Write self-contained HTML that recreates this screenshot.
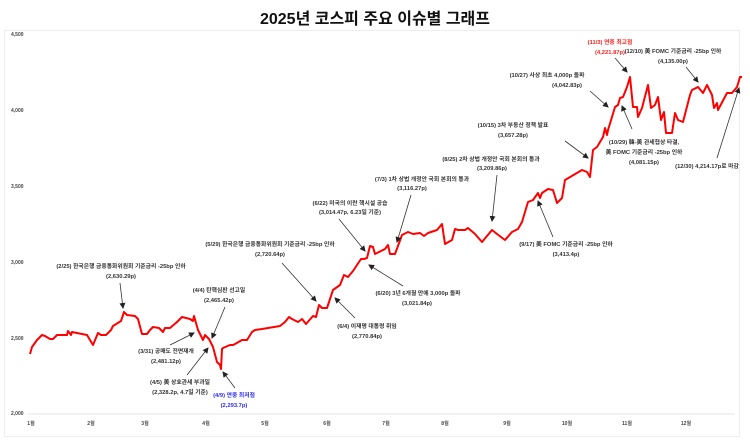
<!DOCTYPE html>
<html><head><meta charset="utf-8"><style>
html,body{margin:0;padding:0;background:#fff}
svg{display:block;font-family:"Liberation Sans","Noto Sans CJK KR",sans-serif}
.a{font-size:5.8px;fill:#333;font-weight:bold;text-anchor:middle}
.t{font-size:5px;fill:#444;font-weight:bold;text-anchor:middle}
.ar{stroke:#333;stroke-width:0.8;fill:none;marker-end:url(#m)}
</style></head><body>
<svg width="750" height="444" viewBox="0 0 750 444">
<defs><marker id="m" markerWidth="6" markerHeight="6" refX="5" refY="3" orient="auto" markerUnits="userSpaceOnUse"><path d="M0,0 L6,3 L0,6 z" fill="#222"/></marker></defs>
<text x="375" y="24" font-size="16" font-weight="bold" text-anchor="middle" fill="#111">2025년  코스피 주요 이슈별 그래프</text>
<rect x="4.5" y="30.5" width="735" height="406" fill="none" stroke="#eee"/>
<line x1="28" y1="414" x2="735" y2="414" stroke="#e6e6e6"/>
<g class="t">
<text x="11" y="36" text-anchor="start">4,500</text>
<text x="11" y="112" text-anchor="start">4,000</text>
<text x="11" y="188" text-anchor="start">3,500</text>
<text x="11" y="264" text-anchor="start">3,000</text>
<text x="11" y="340" text-anchor="start">2,500</text>
<text x="11" y="415" text-anchor="start">2,000</text>
</g>
<g class="t">
<text x="31" y="425">1월</text><text x="91" y="425">2월</text><text x="145" y="425">3월</text><text x="206" y="425">4월</text><text x="265" y="425">5월</text><text x="327" y="425">6월</text><text x="386" y="425">7월</text><text x="445" y="425">8월</text><text x="507" y="425">9월</text><text x="567" y="425">10월</text><text x="627" y="425">11월</text><text x="686" y="425">12월</text>
</g>
<polyline fill="none" stroke="#ff0000" stroke-width="2" stroke-linejoin="round" points="30,354 32,347 37,340 42,335 45,336 50,339 53,339 57,335 67,335 68,331 71,335 72,332 87,335 93,345 98,333 101,335 106,335 111,330 113,326 121,321 124,312 127,315 135,316 138,319 142,334 147,334 150,330 153,327 159,328 163,332 165,328 170,328 177,322 182,317 190,319 193,321 194,316 198,330 203,340 205,335 209,339 213,347 217,362 220,365 221,369 222,349 223,348 230,345 233,345 235,344 242,340 247,340 252,332 255,330 262,329 280,326 285,322 289,317 292,319 298,322 302,319 306,324 313,316 316,317 319,305 322,308 327,308 333,290 340,285 344,275 348,277 353,271 361,259 364,259 367,258 370,246 373,247 375,254 385,249 388,245 390,254 395,254 402,235 408,232 413,234 420,233 424,236 428,233 437,230 442,224 445,244 452,240 455,229 458,230 465,230 468,228 475,234 482,242 492,230 497,234 505,240 512,232 518,229 522,222 528,202 533,200 538,193 540,198 542,193 548,189 553,190 557,203 562,198 565,180 582,170 587,172 590,177 593,150 597,147 603,137 605,128 607,135 608,130 612,117 615,107 618,105 620,98 623,97 627,87 630,77 633,107 637,107 638,117 642,108 648,85 651,108 655,105 658,97 661,120 664,112 666,133 672,133 675,113 678,120 683,122 690,95 692,90 698,87 703,93 707,85 712,95 714,108 717,103 718,110 727,93 732,93 737,87 740,77 742,77"/>
<g class="a">
<text x="121" y="268">(2/25) 한국은행 금융통화위원회 기준금리 -25bp 인하</text><text x="121" y="278">(2,630.29p)</text>
<text x="270" y="246">(5/29) 한국은행 금융통화위원회 기준금리 -25bp 인하</text><text x="270" y="256">(2,720.64p)</text>
<text x="350" y="205">(6/22) 미국의 이란 핵시설 공습</text><text x="350" y="214">(3,014.47p, 6.23일 기준)</text>
<text x="422" y="181">(7/3) 1차 상법 개정안 국회 본회의 통과</text><text x="412" y="190">(3,116.27p)</text>
<text x="491" y="161">(8/25) 2차 상법 개정안 국회 본회의 통과</text><text x="492" y="170">(3,209.86p)</text>
<text x="513" y="127">(10/15) 3차 부동산 정책 발표</text><text x="513" y="137">(3,657.28p)</text>
<text x="547" y="77">(10/27) 사상 최초 4,000p 돌파</text><text x="567" y="87">(4,042.83p)</text>
<text x="610" y="44" fill="#ff2020">(11/3) 연중 최고점</text><text x="610" y="54" fill="#ff2020">(4,221.87p)</text>
<text x="673" y="53">(12/10) 美 FOMC 기준금리 -25bp 인하</text><text x="673" y="63">(4,135.00p)</text>
<text x="644" y="144">(10/29) 韓-美 관세협상 타결,</text><text x="644" y="154">美 FOMC 기준금리 -25bp 인하</text><text x="644" y="164">(4,081.15p)</text>
<text x="707" y="168">(12/30) 4,214.17p로 마감</text>
<text x="566" y="246">(9/17) 美 FOMC 기준금리 -25bp 인하</text><text x="566" y="256">(3,413.4p)</text>
<text x="418" y="295">(6/20) 3년 6개월 만에 3,000p 돌파</text><text x="417" y="305">(3,021.84p)</text>
<text x="367" y="328">(6/4) 이재명 대통령 취임</text><text x="367" y="338">(2,770.84p)</text>
<text x="219" y="292">(4/4) 탄핵심판 선고일</text><text x="219" y="302">(2,465.42p)</text>
<text x="166" y="353">(3/31) 공매도 전면재개</text><text x="166" y="363">(2,481.12p)</text>
<text x="180" y="384">(4/5) 美 상호관세 부과일</text><text x="180" y="394">(2,328.2p, 4.7일 기준)</text>
<text x="234" y="397" fill="#2a2aff">(4/9) 연중 최저점</text><text x="234" y="407" fill="#2a2aff">(2,293.7p)</text>
</g>
<g class="ar">
<path d="M120,283 L123,308"/>
<path d="M282,263 L316,301"/>
<path d="M339,219 L365,251"/>
<path d="M411,195 L397,242"/>
<path d="M497,175 L492,221"/>
<path d="M565,141 L588,158"/>
<path d="M590,91 L608,107"/>
<path d="M615,58 L627,72"/>
<path d="M686,67 L698,82"/>
<path d="M632,129 L622,106"/>
<path d="M717,158 L739,88"/>
<path d="M553,237 L538,201"/>
<path d="M403,286 L369,265"/>
<path d="M355,318 L335,298"/>
<path d="M225,307 L212,338"/>
<path d="M170,345 L194,333"/>
<path d="M187,375 L208,348"/>
<path d="M235,388 L223,372"/>
</g>
</svg>
</body></html>
